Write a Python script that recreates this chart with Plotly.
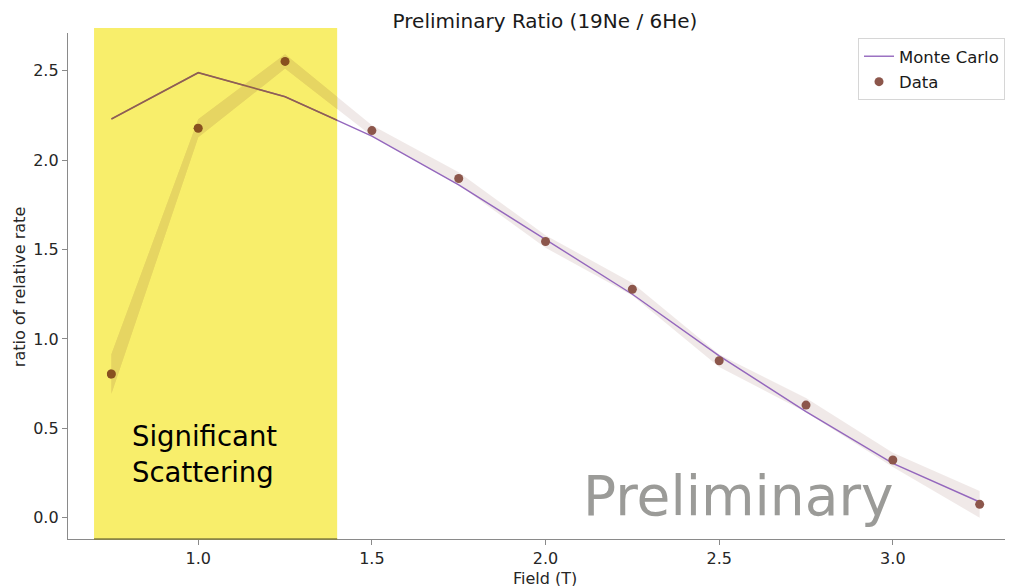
import plotly.graph_objects as go

# ---- data ----
field = [0.75, 1.00, 1.25, 1.50, 1.75, 2.00, 2.25, 2.50, 2.75, 3.00, 3.25]
mc_ratio = [2.230, 2.489, 2.355, 2.134, 1.862, 1.555, 1.250, 0.905, 0.593, 0.304, 0.088]
data_ratio = [0.804, 2.178, 2.552, 2.165, 1.897, 1.545, 1.278, 0.878, 0.630, 0.323, 0.075]
data_err = [0.11, 0.05, 0.04, 0.03, 0.035, 0.035, 0.035, 0.035, 0.04, 0.04, 0.075]
x_ticks = [1.0, 1.5, 2.0, 2.5, 3.0]
y_ticks = [0.0, 0.5, 1.0, 1.5, 2.0, 2.5]
scatter_region = [0.70, 1.40]

# ---- styling ----
FONT = "DejaVu Sans"
PURPLE = "#9467bd"
BROWN = "#8c564b"
BAND = "rgba(140,86,75,0.13)"
YELLOW = "rgb(248,238,107)"
# colours as they look seen through the yellow highlight
PURPLE_Y = "rgb(144,96,79)"
BROWN_Y = "rgb(136,80,31)"
BAND_Y = "rgb(230,213,98)"
AXIS = "#8a8a8a"
TEXT = "#262626"

W, H = 1013, 586
ML, MR, MT, MB = 60, 0, 25, 55          # page has an 8px body offset
PW = W - ML - MR
PH = H - MT - MB

x_range = [0.625, 0.625 + PW / 347.3]
y_range = [-0.119, 2.711]

upper = [v + e for v, e in zip(data_ratio, data_err)]
lower = [v - e for v, e in zip(data_ratio, data_err)]
band_x = field + field[::-1]
band_y = upper + lower[::-1]

fig = go.Figure()

# main traces
fig.add_trace(go.Scatter(x=band_x, y=band_y, fill="toself", fillcolor=BAND,
                         line=dict(width=0), mode="lines", showlegend=False,
                         hoverinfo="skip"))
fig.add_trace(go.Scatter(x=field, y=mc_ratio, mode="lines", name="Monte Carlo",
                         line=dict(color=PURPLE, width=1.4), legendgroup="a"))
fig.add_trace(go.Scatter(x=field, y=data_ratio, mode="markers", name="Data",
                         marker=dict(color=BROWN, size=9), legendgroup="b"))

# same traces re-drawn inside the highlighted region (clipped by x2 domain)
fig.add_trace(go.Scatter(x=band_x, y=band_y, fill="toself", fillcolor=BAND_Y,
                         line=dict(width=0), mode="lines", showlegend=False,
                         xaxis="x2", yaxis="y", hoverinfo="skip"))
fig.add_trace(go.Scatter(x=field, y=mc_ratio, mode="lines", showlegend=False,
                         line=dict(color=PURPLE_Y, width=1.6), xaxis="x2", yaxis="y"))
fig.add_trace(go.Scatter(x=field, y=data_ratio, mode="markers", showlegend=False,
                         marker=dict(color=BROWN_Y, size=9), xaxis="x2", yaxis="y"))

x2_end = (scatter_region[1] - x_range[0]) / (x_range[1] - x_range[0])

fig.update_layout(
    width=W, height=H,
    margin=dict(l=ML, r=MR, t=MT, b=MB, autoexpand=False),
    paper_bgcolor="white", plot_bgcolor="rgba(0,0,0,0)",
    font=dict(family=FONT, color=TEXT, size=16),
    title=dict(text="Preliminary Ratio (19Ne / 6He)", xref="container", yref="container",
               x=537 / W, y=1 - 13.4 / H, xanchor="center", yanchor="middle",
               font=dict(family=FONT, size=20, color="#1a1a1a")),
    xaxis=dict(range=x_range, tickvals=x_ticks, ticktext=[f"{v:.1f}" for v in x_ticks],
               showgrid=False, zeroline=False, showline=True, linecolor=AXIS, linewidth=1.4,
               ticks="outside", ticklen=5, tickcolor=AXIS, tickwidth=1.2,
               tickfont=dict(size=16, color=TEXT), domain=[0, 1], anchor="y"),
    xaxis2=dict(range=[x_range[0], scatter_region[1]], domain=[0, x2_end], anchor="y",
                visible=False, showgrid=False, zeroline=False),
    yaxis=dict(range=y_range, tickvals=y_ticks, ticktext=[f"{v:.1f}" for v in y_ticks],
               showgrid=False, zeroline=False, showline=True, linecolor=AXIS, linewidth=1.4,
               ticks="outside", ticklen=5, tickcolor=AXIS, tickwidth=1.2,
               tickfont=dict(size=16, color=TEXT), anchor="x"),
    legend=dict(x=(858 - 68) / PW, y=(539 - 38) / PH, xanchor="left", yanchor="top",
                bgcolor="white", bordercolor="#d6d6d6", borderwidth=1,
                font=dict(family=FONT, size=16.5, color="#1a1a1a"),
                traceorder="grouped", tracegroupgap=1),
    showlegend=True,
)

fig.add_shape(type="rect", xref="x", yref="paper",
              x0=scatter_region[0], x1=scatter_region[1], y0=0, y1=1.0099,
              fillcolor=YELLOW, line=dict(width=0), layer="below")
fig.add_shape(type="line", xref="x", yref="paper",
              x0=scatter_region[0], x1=scatter_region[1], y0=0, y1=0,
              line=dict(color="rgb(134,128,60)", width=1.4), layer="above")

fig.add_annotation(text="Significant<br>Scattering", xref="x", yref="y",
                   x=0.804, y=0.356, xanchor="left", yanchor="middle", align="left",
                   showarrow=False, font=dict(family=FONT, size=27.5, color="black"))
fig.add_annotation(text="Preliminary", xref="x", yref="y",
                   x=2.103, y=0.123, xanchor="left", yanchor="middle",
                   showarrow=False, font=dict(family=FONT, size=55, color="rgb(155,155,152)"))
fig.add_annotation(text="Field (T)", xref="paper", yref="paper",
                   x=(545 - 68) / PW, y=(539.3 - 579) / PH, xanchor="center",
                   yanchor="middle", showarrow=False,
                   font=dict(family=FONT, size=16, color=TEXT))
fig.add_annotation(text="ratio of relative rate", xref="paper", yref="paper",
                   x=(19.5 - 68) / PW, y=(539.3 - 288) / PH, xanchor="center",
                   yanchor="middle", textangle=-90, showarrow=False,
                   font=dict(family=FONT, size=16, color=TEXT))

fig.write_html("out.html")
